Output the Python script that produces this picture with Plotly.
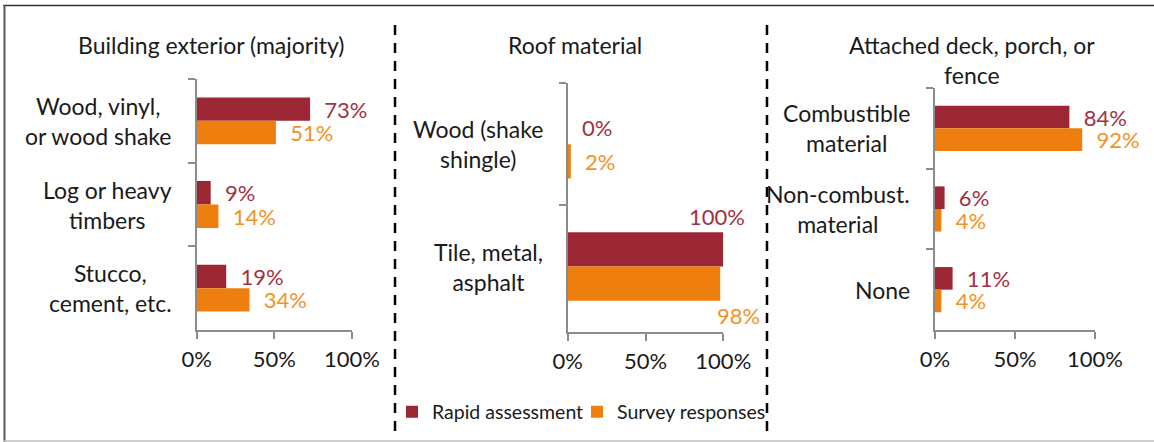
import plotly.graph_objects as go

# data (shares, 0-1)
ext_cats = ["Wood, vinyl,<br>or wood shake", "Log or heavy<br>timbers", "Stucco,<br>cement, etc."]
ext_rapid = [0.73, 0.09, 0.19]
ext_survey = [0.51, 0.14, 0.34]

roof_cats = ["Wood (shake<br>shingle)", "Tile, metal,<br>asphalt"]
roof_rapid = [0.00, 1.00]
roof_survey = [0.02, 0.98]

deck_cats = ["Combustible<br>material", "Non-combust.<br>material", "None"]
deck_rapid = [0.84, 0.06, 0.11]
deck_survey = [0.92, 0.04, 0.04]

panel_titles = ["Building exterior (majority)", "Roof material", "Attached deck, porch, or<br>fence"]
series_names = ["Rapid assessment", "Survey responses"]

RED = "#9D2635"
ORANGE = "#EE7F0E"
RED_TXT = "#A3313F"
ORANGE_TXT = "#F39226"
TXT = "#1A1A1A"
FONT = "Lato"
W, H = 1154, 442
PAD = "\u00a0\u00a0"


# positions below are given in pixels of the 1154x442 page
def px(x):
    return x / W


def py(y):
    return (H - y) / H


# plot areas: (x at 0%, x at 100%, top, bottom)
boxes = [(196.7, 352, 79, 330), (567.7, 723.3, 83, 332), (935, 1095, 88, 330)]
title_x = [211, 575, 972]

panels = [
    (ext_cats, ext_rapid, ext_survey),
    (roof_cats, roof_rapid, roof_survey),
    (deck_cats, deck_rapid, deck_survey),
]

fig = go.Figure()
annotations = []

for i, (cats, rapid, survey) in enumerate(panels):
    n = i + 1
    xa = "x" if n == 1 else "x%d" % n
    ya = "y" if n == 1 else "y%d" % n
    series = [(rapid, series_names[0], RED, RED_TXT, "legend"),
              (survey, series_names[1], ORANGE, ORANGE_TXT, "legend2")]
    for vals, name, col, tcol, leg in series:
        texts = []
        for c, v in zip(cats, vals):
            # the tile row labels are placed by hand below, like in the original
            if c.startswith("Tile"):
                texts.append("")
            else:
                texts.append(PAD + "{:.0%}".format(v))
        fig.add_trace(go.Bar(
            y=cats, x=vals, name=name, orientation="h",
            marker=dict(color=col, line=dict(width=0)),
            text=texts, textposition="outside", constraintext="none", cliponaxis=False,
            outsidetextfont=dict(family=FONT, size=22, color=tcol),
            xaxis=xa, yaxis=ya, showlegend=(i == 0), legend=leg,
            hoverinfo="skip",
        ))

    x0, x1, yt, yb = boxes[i]
    axis_style = dict(showline=True, linecolor="#8C8C8C", linewidth=1.5, ticks="outside",
                      ticklen=7, tickcolor="#8C8C8C", tickwidth=1.5, showgrid=False, zeroline=False,
                      automargin=False)
    fig.layout["xaxis" + ("" if n == 1 else str(n))] = dict(
        domain=[px(x0), px(x1)], anchor=ya, range=[0, 1], tickvals=[0, 0.5, 1],
        tickformat=".0%", tickfont=dict(family=FONT, size=22, color=TXT),
        ticklabelstandoff=2, **axis_style)
    fig.layout["yaxis" + ("" if n == 1 else str(n))] = dict(
        domain=[py(yb), py(yt)], anchor=xa, autorange="reversed", tickson="boundaries",
        showticklabels=False, type="category", **axis_style)

    # category labels, centred lines like the original
    for c in cats:
        annotations.append(dict(x=0, xref=xa + " domain", y=c, yref=ya, text=c, showarrow=False,
                                xanchor="right", xshift=-23, align="center",
                                font=dict(family=FONT, size=23, color=TXT)))
    annotations.append(dict(x=px(title_x[i]), xref="paper", y=py(29), yref="paper",
                            xanchor="center", yanchor="top",
                            text=panel_titles[i], showarrow=False, align="center",
                            font=dict(family=FONT, size=23, color=TXT)))

# tile row labels: above / below the bars
annotations.append(dict(x=roof_rapid[1], xref="x2", y=roof_cats[1], yref="y2",
                        text="{:.0%}".format(roof_rapid[1]), showarrow=False, xanchor="center",
                        xshift=-6, yshift=50, font=dict(family=FONT, size=22, color=RED_TXT)))
annotations.append(dict(x=roof_survey[1], xref="x2", y=roof_cats[1], yref="y2",
                        text="{:.0%}".format(roof_survey[1]), showarrow=False, xanchor="center",
                        xshift=18, yshift=-49, font=dict(family=FONT, size=22, color=ORANGE_TXT)))

shapes = [
    dict(type="line", xref="paper", yref="paper", x0=px(3), x1=1, y0=py(5.5), y1=py(5.5),
         line=dict(color="#333333", width=1.5)),
    dict(type="line", xref="paper", yref="paper", x0=px(4.5), x1=px(4.5), y0=py(5), y1=0,
         line=dict(color="#595959", width=2)),
    dict(type="line", xref="paper", yref="paper", x0=px(3), x1=1, y0=py(441), y1=py(441),
         line=dict(color="#BFBFBF", width=1.5)),
]
for xd in [395, 767]:
    shapes.append(dict(type="line", xref="paper", yref="paper", x0=px(xd), x1=px(xd),
                       y0=py(431), y1=py(23), line=dict(color="black", width=2.5, dash="10px,8px")))

legend_style = dict(orientation="h", xanchor="left", yanchor="middle", y=py(412),
                    font=dict(family=FONT, size=19.5, color=TXT), itemwidth=30,
                    bgcolor="rgba(0,0,0,0)")

fig.update_layout(
    width=W, height=H, margin=dict(l=0, r=0, t=0, b=0, pad=0, autoexpand=False),
    paper_bgcolor="white", plot_bgcolor="white",
    barmode="group", bargap=0.44, bargroupgap=0,
    font=dict(family=FONT, size=22, color=TXT),
    legend=dict(x=px(392), **legend_style),
    legend2=dict(x=px(577), **legend_style),
    annotations=annotations, shapes=shapes,
)

# drop the default 8px body margin so the figure sits in the page corner
fig.write_html("out.html", config={"displayModeBar": False},
               post_script="document.body.style.margin = '0px';")
